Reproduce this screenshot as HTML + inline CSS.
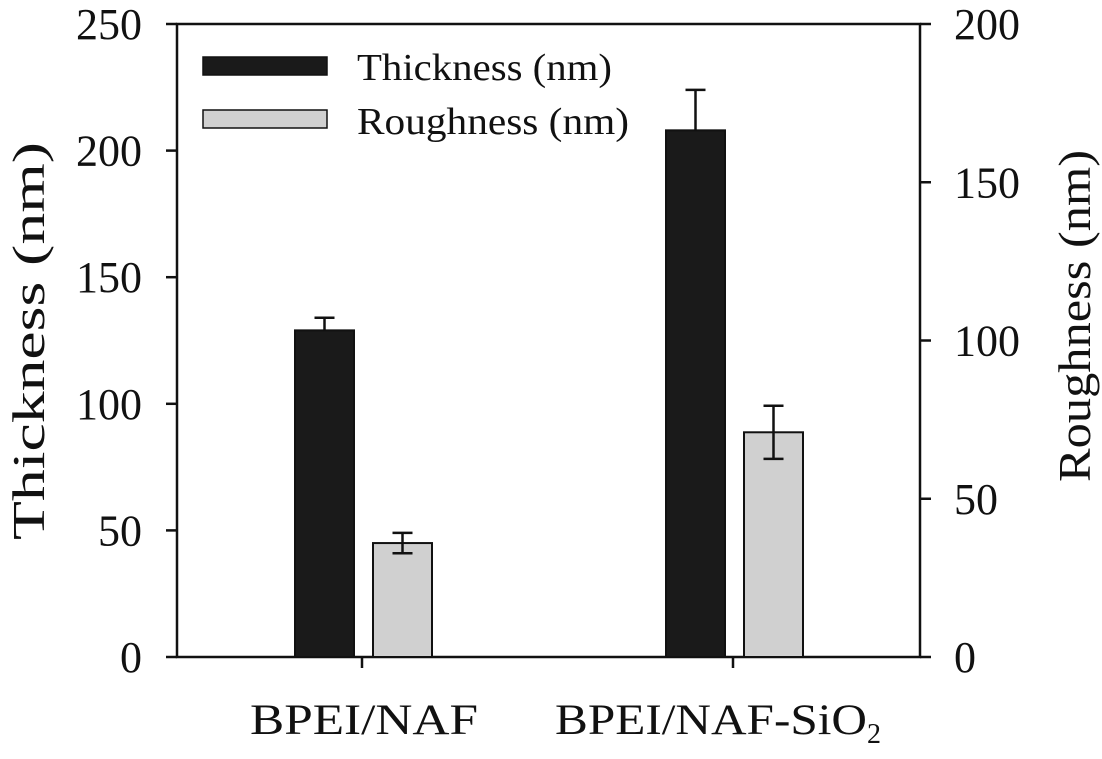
<!DOCTYPE html>
<html><head><meta charset="utf-8"><style>
body{margin:0;background:#fff}
svg text{font-family:"Liberation Serif",serif;fill:#111}
</style></head><body>
<svg id="c" width="1102" height="754" xmlns="http://www.w3.org/2000/svg"></svg>
<script>
const categories=["BPEI/NAF","BPEI/NAF-SiO2"];
const thickness=[129,208];
const thicknessErr=[5,16];
const roughness=[36,71];
const roughnessErr=[3.2,8.4];
const leftTicks=[0,50,100,150,200,250];
const rightTicks=[0,50,100,150,200];
const X0=177,X1=920,Y0=657,Y1=24;
const yL=v=>Y0-(v/250)*(Y0-Y1);
const yR=v=>Y0-(v/200)*(Y0-Y1);
const catX=i=>362+i*371;
const svg=document.getElementById('c');
const NS="http://www.w3.org/2000/svg";
function mk(tag,attrs,txt){const e=document.createElementNS(NS,tag);for(const k in attrs)e.setAttribute(k,attrs[k]);if(txt!==undefined)e.textContent=txt;svg.appendChild(e);return e;}
let e;
e=mk('rect',{x:X0,y:Y1,width:X1-X0,height:Y0-Y1,fill:'none',stroke:'#111','stroke-width':2.5});

leftTicks.forEach(v=>{
 e=mk('line',{x1:X0-11,x2:X0,y1:yL(v),y2:yL(v),stroke:'#111','stroke-width':2.5});
 
 e=mk('text',{x:X0-35,y:yL(v)+15,'text-anchor':'end','font-size':44},v);
 
});
rightTicks.forEach(v=>{
 e=mk('line',{x1:X1,x2:X1+11,y1:yR(v),y2:yR(v),stroke:'#111','stroke-width':2.5});
 
 e=mk('text',{x:X1+34,y:yR(v)+15,'text-anchor':'start','font-size':44},v);
 
});
categories.forEach((c,i)=>{
 const cx=catX(i);
 e=mk('line',{x1:cx,x2:cx,y1:Y0,y2:Y0+11,stroke:'#111','stroke-width':2.5});
 
 const bw=59;
 const ty=yL(thickness[i]);
 e=mk('rect',{x:cx-67,y:ty,width:bw,height:Y0-ty,fill:'#1a1a1a',stroke:'#111','stroke-width':2});
 
 const tx=cx-67+bw/2,te=yL(thickness[i]+thicknessErr[i]);
 e=mk('path',{d:`M${tx},${ty}V${te}M${tx-10},${te}H${tx+10}`,stroke:'#111','stroke-width':2.5,fill:'none'});
 
 const ry=yR(roughness[i]);
 e=mk('rect',{x:cx+11,y:ry,width:bw,height:Y0-ry,fill:'#d0d0d0',stroke:'#111','stroke-width':2});
 
 const rx=cx+11+bw/2,rt=yR(roughness[i]+roughnessErr[i]),rb=yR(roughness[i]-roughnessErr[i]);
 e=mk('path',{d:`M${rx},${rb}V${rt}M${rx-10},${rt}H${rx+10}M${rx-10},${rb}H${rx+10}`,stroke:'#111','stroke-width':2.5,fill:'none'});
 
});
e=mk('text',{x:250,y:734,'font-size':43,textLength:228,lengthAdjust:'spacingAndGlyphs'},'BPEI/NAF');

e=mk('text',{x:555,y:734,'font-size':43});

e.innerHTML='<tspan textLength="312" lengthAdjust="spacingAndGlyphs">BPEI/NAF-SiO</tspan><tspan font-size="28" dy="9">2</tspan>';
e=mk('text',{x:0,y:0,'text-anchor':'middle','font-size':46,textLength:398,lengthAdjust:'spacingAndGlyphs',transform:'translate(44,341) rotate(-90)'},'Thickness (nm)');

e=mk('text',{x:0,y:0,'text-anchor':'middle','font-size':46,textLength:332,lengthAdjust:'spacingAndGlyphs',transform:'translate(1090,316) rotate(-90)'},'Roughness (nm)');

e=mk('rect',{x:203,y:57,width:124,height:18,fill:'#1a1a1a',stroke:'#111','stroke-width':1.5});

e=mk('text',{x:357,y:80,'font-size':38,textLength:255,lengthAdjust:'spacingAndGlyphs'},'Thickness (nm)');

e=mk('rect',{x:203,y:110,width:124,height:18,fill:'#d0d0d0',stroke:'#111','stroke-width':1.5});

e=mk('text',{x:357,y:134,'font-size':38,textLength:272,lengthAdjust:'spacingAndGlyphs'},'Roughness (nm)');

</script>
</body></html>
